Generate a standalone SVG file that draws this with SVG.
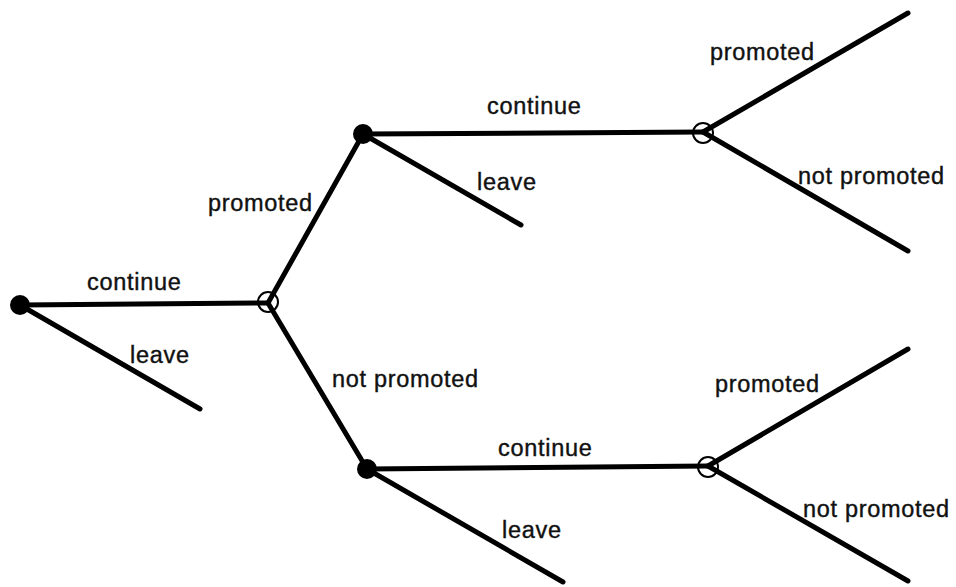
<svg xmlns="http://www.w3.org/2000/svg" width="956" height="587" viewBox="0 0 956 587">
<style>
.e{stroke:#000;stroke-width:5;stroke-linecap:round;fill:none}
.f{fill:#000}
.o{fill:none;stroke:#000;stroke-width:2}
text{font-family:"Liberation Sans",Arial,sans-serif;font-size:23.5px;letter-spacing:0.7px;fill:#111;stroke:#111;stroke-width:0.4}
</style>
<rect width="956" height="587" fill="#fff"/>
<g id="connectors">
<line class="e" x1="20" y1="305" x2="268" y2="303"/>
<line class="e" x1="20" y1="305" x2="200" y2="409"/>
<line class="e" x1="268" y1="303" x2="363" y2="134"/>
<line class="e" x1="268" y1="303" x2="367" y2="469"/>
<line class="e" x1="363" y1="134" x2="703" y2="132"/>
<line class="e" x1="363" y1="134" x2="521" y2="225"/>
<line class="e" x1="703" y1="132" x2="908" y2="13"/>
<line class="e" x1="703" y1="132" x2="908" y2="251"/>
<line class="e" x1="367" y1="469" x2="708" y2="466"/>
<line class="e" x1="367" y1="469" x2="563" y2="582"/>
<line class="e" x1="708" y1="466" x2="908" y2="349"/>
<line class="e" x1="708" y1="466" x2="908" y2="581"/>
</g>
<g id="n0"><circle class="f" cx="20" cy="305" r="10"/></g>
<g id="n1"><circle class="o" cx="268" cy="302" r="10"/></g>
<g id="n2"><circle class="f" cx="363" cy="134" r="10"/></g>
<g id="n3"><circle class="f" cx="367" cy="469" r="10"/></g>
<g id="n4"><circle class="o" cx="703" cy="133" r="10"/></g>
<g id="n5"><circle class="o" cx="708" cy="467" r="10"/></g>
<g id="labels">
<text x="87" y="290">continue</text>
<text x="130" y="363">leave</text>
<text x="208" y="211">promoted</text>
<text x="332" y="387">not promoted</text>
<text x="487" y="114">continue</text>
<text x="477" y="190">leave</text>
<text x="710" y="60">promoted</text>
<text x="798" y="184">not promoted</text>
<text x="498" y="456">continue</text>
<text x="502" y="538">leave</text>
<text x="715" y="392">promoted</text>
<text x="803" y="517">not promoted</text>
</g>
</svg>
